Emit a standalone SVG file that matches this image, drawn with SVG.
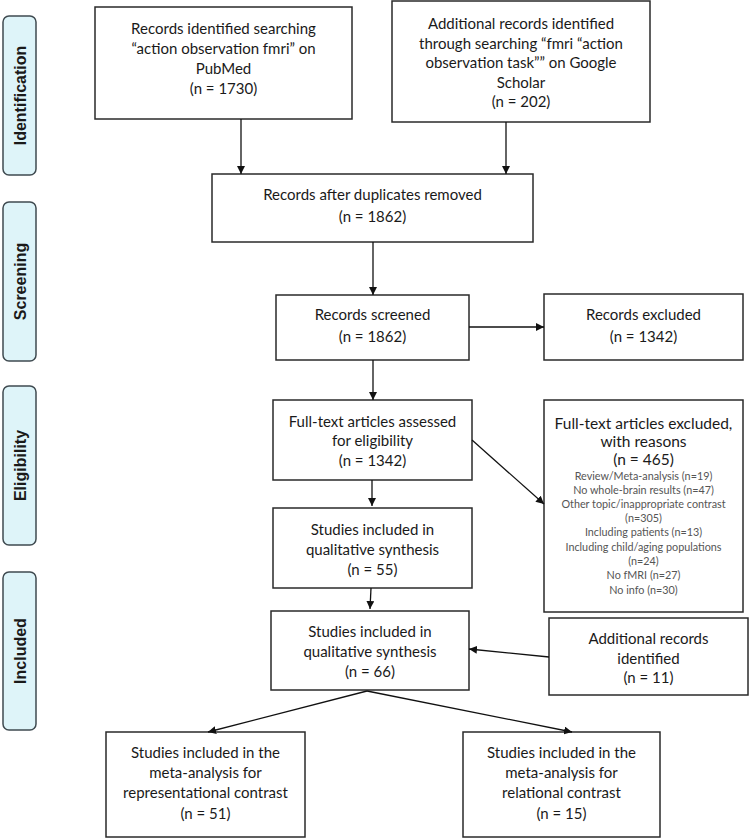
<svg xmlns="http://www.w3.org/2000/svg" width="750" height="839" viewBox="0 0 750 839">
<defs>
<marker id="ah" viewBox="0 0 10 10" refX="10" refY="5" markerWidth="8" markerHeight="8" markerUnits="userSpaceOnUse" orient="auto">
<path d="M0,0 L10,5 L0,10 z" fill="#111"/>
</marker>
<style>
.box{fill:#fff;stroke:#2a2a2a;stroke-width:1.5}
.lab{fill:#def4f9;stroke:#3f4a50;stroke-width:1.5}
.t{font-family:Lato,"Liberation Sans",sans-serif;font-size:15px;fill:#1a1a1a;text-anchor:middle}
.tb{font-family:Lato,"Liberation Sans",sans-serif;font-size:15.5px;fill:#1a1a1a;text-anchor:middle}
.ts{font-family:Lato,"Liberation Sans",sans-serif;font-size:10.8px;fill:#555;text-anchor:middle}
.lt{font-family:"Liberation Sans",Arial,sans-serif;font-size:16px;font-weight:bold;fill:#1a1a1a;text-anchor:middle}
.c{stroke:#111;stroke-width:1.3;fill:none;marker-end:url(#ah)}
</style>
</defs>
<rect width="750" height="839" fill="#fff"/>
<g id="label-identification"><rect class="lab" x="3" y="16" width="33" height="159" rx="6"/><text class="lt" transform="translate(26,95.5) rotate(-90)">Identification</text></g>
<g id="label-screening"><rect class="lab" x="3" y="202" width="33" height="159" rx="6"/><text class="lt" transform="translate(26,281.5) rotate(-90)">Screening</text></g>
<g id="label-eligibility"><rect class="lab" x="3" y="386" width="33" height="159" rx="6"/><text class="lt" transform="translate(26,465.5) rotate(-90)">Eligibility</text></g>
<g id="label-included"><rect class="lab" x="3" y="572" width="33" height="158" rx="6"/><text class="lt" transform="translate(26,651) rotate(-90)">Included</text></g>

<g id="pubmed"><rect class="box" x="95" y="7" width="257" height="112"/>
<text class="t" x="223.5" y="34">Records identified searching</text>
<text class="t" x="223.5" y="54">“action observation fmri” on</text>
<text class="t" x="223.5" y="74">PubMed</text>
<text class="t" x="223.5" y="94">(n = 1730)</text></g>

<g id="scholar"><rect class="box" x="392" y="1" width="258" height="121"/>
<text class="t" x="521" y="29">Additional records identified</text>
<text class="t" x="521" y="48.5">through searching “fmri “action</text>
<text class="t" x="521" y="68">observation task”” on Google</text>
<text class="t" x="521" y="87.5">Scholar</text>
<text class="t" x="521" y="107">(n = 202)</text></g>

<g id="dedup"><rect class="box" x="212" y="174" width="321" height="68"/>
<text class="t" x="372.5" y="200">Records after duplicates removed</text>
<text class="t" x="372.5" y="222">(n = 1862)</text></g>

<g id="screened"><rect class="box" x="276" y="295" width="193" height="65"/>
<text class="t" x="372.5" y="320">Records screened</text>
<text class="t" x="372.5" y="342">(n = 1862)</text></g>

<g id="excluded"><rect class="box" x="544" y="294" width="199" height="66"/>
<text class="t" x="643.5" y="320">Records excluded</text>
<text class="t" x="643.5" y="342">(n = 1342)</text></g>

<g id="fulltext"><rect class="box" x="273" y="400" width="199" height="80"/>
<text class="t" x="372.5" y="427">Full-text articles assessed</text>
<text class="t" x="372.5" y="446">for eligibility</text>
<text class="t" x="372.5" y="466">(n = 1342)</text></g>

<g id="fulltext-excluded"><rect class="box" x="544" y="400" width="199" height="212"/>
<text class="tb" x="643.5" y="429">Full-text articles excluded,</text>
<text class="tb" x="643.5" y="447">with reasons</text>
<text class="tb" x="643.5" y="465">(n = 465)</text>
<text class="ts" x="643.5" y="480">Review/Meta-analysis (n=19)</text>
<text class="ts" x="643.5" y="494">No whole-brain results (n=47)</text>
<text class="ts" x="643.5" y="508">Other topic/inappropriate contrast</text>
<text class="ts" x="643.5" y="521.5">(n=305)</text>
<text class="ts" x="643.5" y="536">Including patients (n=13)</text>
<text class="ts" x="643.5" y="550.5">Including child/aging populations</text>
<text class="ts" x="643.5" y="564.5">(n=24)</text>
<text class="ts" x="643.5" y="579">No fMRI (n=27)</text>
<text class="ts" x="643.5" y="594">No info (n=30)</text></g>

<g id="qual55"><rect class="box" x="273" y="508" width="199" height="80"/>
<text class="t" x="372.5" y="535">Studies included in</text>
<text class="t" x="372.5" y="555">qualitative synthesis</text>
<text class="t" x="372.5" y="575">(n = 55)</text></g>

<g id="qual66"><rect class="box" x="271" y="611" width="198" height="79"/>
<text class="t" x="370" y="637">Studies included in</text>
<text class="t" x="370" y="657">qualitative synthesis</text>
<text class="t" x="370" y="677">(n = 66)</text></g>

<g id="additional"><rect class="box" x="549" y="618" width="199" height="77"/>
<text class="t" x="648.5" y="644">Additional records</text>
<text class="t" x="648.5" y="664">identified</text>
<text class="t" x="648.5" y="683">(n = 11)</text></g>

<g id="representational"><rect class="box" x="106" y="732" width="199" height="105"/>
<text class="t" x="205.5" y="758">Studies included in the</text>
<text class="t" x="205.5" y="778">meta-analysis for</text>
<text class="t" x="205.5" y="798">representational contrast</text>
<text class="t" x="205.5" y="819">(n = 51)</text></g>

<g id="relational"><rect class="box" x="463" y="732" width="197" height="105"/>
<text class="t" x="561.5" y="758">Studies included in the</text>
<text class="t" x="561.5" y="778">meta-analysis for</text>
<text class="t" x="561.5" y="798">relational contrast</text>
<text class="t" x="561.5" y="819">(n = 15)</text></g>

<g id="connectors">
<line class="c" x1="241" y1="119" x2="241" y2="174"/>
<line class="c" x1="506" y1="122" x2="506" y2="174"/>
<line class="c" x1="373" y1="242" x2="373" y2="295"/>
<line class="c" x1="469" y1="327" x2="544" y2="327"/>
<line class="c" x1="373" y1="360" x2="373" y2="400"/>
<line class="c" x1="472" y1="440" x2="544" y2="504"/>
<line class="c" x1="372" y1="480" x2="372" y2="506"/>
<line class="c" x1="371" y1="588" x2="370" y2="609"/>
<line class="c" x1="549" y1="657" x2="469" y2="649"/>
<line class="c" x1="367" y1="691" x2="208" y2="732"/>
<line class="c" x1="367" y1="691" x2="572" y2="732"/>
</g>
</svg>
